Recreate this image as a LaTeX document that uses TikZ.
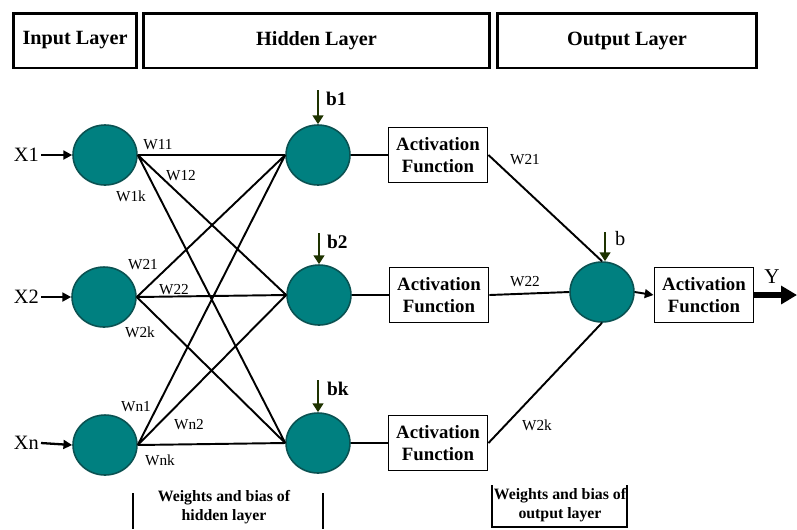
\documentclass[tikz,border=0pt]{standalone}
\usepackage{fontspec}
\setmainfont{Liberation Serif}
\usetikzlibrary{shapes.geometric,arrows.meta}
\definecolor{neuronfill}{HTML}{008080}
\definecolor{neuronline}{HTML}{0A5252}
\definecolor{biasgreen}{HTML}{1E3300}
\tikzset{
  neuron/.style={ellipse,draw=neuronline,fill=neuronfill,line width=0.9pt,
    minimum width=1.28cm,minimum height=1.2cm,inner sep=0pt},
  actbox/.style={draw,line width=1.1pt,minimum width=1.98cm,minimum height=1.1cm,
    align=center,inner sep=1pt,font=\fontsize{10.7}{12.5}\selectfont\bfseries},
  layerbox/.style={draw,line width=1.7pt,minimum height=1.1cm,
    font=\fontsize{11.5}{13}\selectfont\bfseries},
  wlabel/.style={inner sep=1pt,font=\fontsize{8.7}{10}\selectfont},
  xlabel/.style={inner sep=1pt,font=\fontsize{11.6}{13}\selectfont},
  blabel/.style={inner sep=1pt,font=\fontsize{11}{13}\selectfont\bfseries},
  notelabel/.style={align=center,inner sep=1pt,font=\fontsize{9}{10.8}\selectfont\bfseries},
  link/.style={line width=1.1pt},
  inarrow/.style={line width=1.3pt,-{Triangle[length=5pt,width=5pt]}},
  bias/.style={draw=biasgreen,line width=1.6pt,-{Triangle[length=5pt,width=6pt]}},
}
\begin{document}
\begin{tikzpicture}[x=0.02cm,y=-0.02cm]
\useasboundingbox (0,0) rectangle (797,529);

% layer headers
\node[layerbox,minimum width=2.48cm] (inlayer) at (75,40.5) {Input Layer};
\node[layerbox,minimum width=6.94cm] (hidlayer) at (316.5,40.5) {Hidden Layer};
\node[layerbox,minimum width=5.2cm] (outlayer) at (627,40.5) {Output Layer};

% neurons
\node[neuron] (i1) at (105,155) {};
\node[neuron] (i2) at (104,297) {};
\node[neuron] (in) at (105,445) {};
\node[neuron] (h1) at (318,155) {};
\node[neuron] (h2) at (319,295) {};
\node[neuron] (hk) at (318,443) {};
\node[neuron] (o) at (602,292) {};

% activation boxes
\node[actbox] (a1) at (438,155) {Activation\\Function};
\node[actbox] (a2) at (439,295) {Activation\\Function};
\node[actbox] (a3) at (438,443) {Activation\\Function};
\node[actbox] (a4) at (704,295) {Activation\\Function};

% inputs
\node[xlabel,anchor=east] (x1) at (41,155) {X1};
\node[xlabel,anchor=east] (x2) at (41,297) {X2};
\node[xlabel,anchor=east] (xn) at (41,443) {Xn};
\draw[inarrow] (x1.east) -- (i1.west);
\draw[inarrow] (x2.east) -- (i2.west);
\draw[inarrow] (xn.east) -- (in.west);

% input to hidden weights
\draw[link] (i1.east) -- (h1.west)
            (i1.east) -- (h2.west)
            (i1.east) -- (hk.west)
            (i2.east) -- (h1.west)
            (i2.east) -- (h2.west)
            (i2.east) -- (hk.west)
            (in.east) -- (h1.west)
            (in.east) -- (h2.west)
            (in.east) -- (hk.west);

\node[wlabel] (w11) at (158,145) {W11};
\node[wlabel] (w12) at (181,176) {W12};
\node[wlabel] (w1k) at (131,196) {W1k};
\node[wlabel] (w21) at (143,265) {W21};
\node[wlabel] (w22) at (174,290) {W22};
\node[wlabel] (w2k) at (140,332) {W2k};
\node[wlabel] (wn1) at (136,407) {Wn1};
\node[wlabel] (wn2) at (189,425) {Wn2};
\node[wlabel] (wnk) at (160,460) {Wnk};

% biases
\coordinate (bt1) at (318,90);
\coordinate (bt2) at (319,233);
\coordinate (btk) at (318,380);
\coordinate (bto) at (605,232);
\draw[bias] (bt1) -- (h1.north);
\draw[bias] (bt2) -- (h2.north);
\draw[bias] (btk) -- (hk.north);
\draw[bias] (bto) -- (o.north -| bto);
\node[blabel,anchor=west] (b1) at (324,99) {b1};
\node[blabel,anchor=west] (b2) at (325,242) {b2};
\node[blabel,anchor=west] (bk) at (325,389) {bk};
\node[xlabel,anchor=west] (b) at (613,239) {b};

% hidden to activation
\draw[link] (h1.east) -- (a1.west)
            (h2.east) -- (a2.west)
            (hk.east) -- (a3.west);

% activation to output neuron
\draw[link] (a1.east) -- (o.north)
            (a2.east) -- (o.west)
            (a3.east) -- (o.south);
\node[wlabel] (v21) at (525,160) {W21};
\node[wlabel] (v22) at (525,282) {W22};
\node[wlabel] (v2k) at (537,425) {W2k};

% output
\coordinate (yend) at (797,295);
\draw[line width=1.1pt,-{Triangle[length=5pt,width=5pt]}] (o.east) -- (a4.west);
\draw[line width=3.4pt,-{Triangle[length=9pt,width=10pt]}] (a4.east) -- (yend);
\node[xlabel,font=\fontsize{12}{14}\selectfont] (y) at (772,277) {Y};

% notes
\node[notelabel] (wh) at (224,507) {Weights and bias of\\hidden layer};
\draw[line width=1.2pt] (133,493) -- (133,529)
                        (323,493) -- (323,529);
\node[notelabel] (wo) at (560,505) {Weights and bias of\\output layer};
\draw[line width=1.2pt] (492,485) -- (492,527) -- (627,527) -- (627,485);
\end{tikzpicture}
\end{document}
